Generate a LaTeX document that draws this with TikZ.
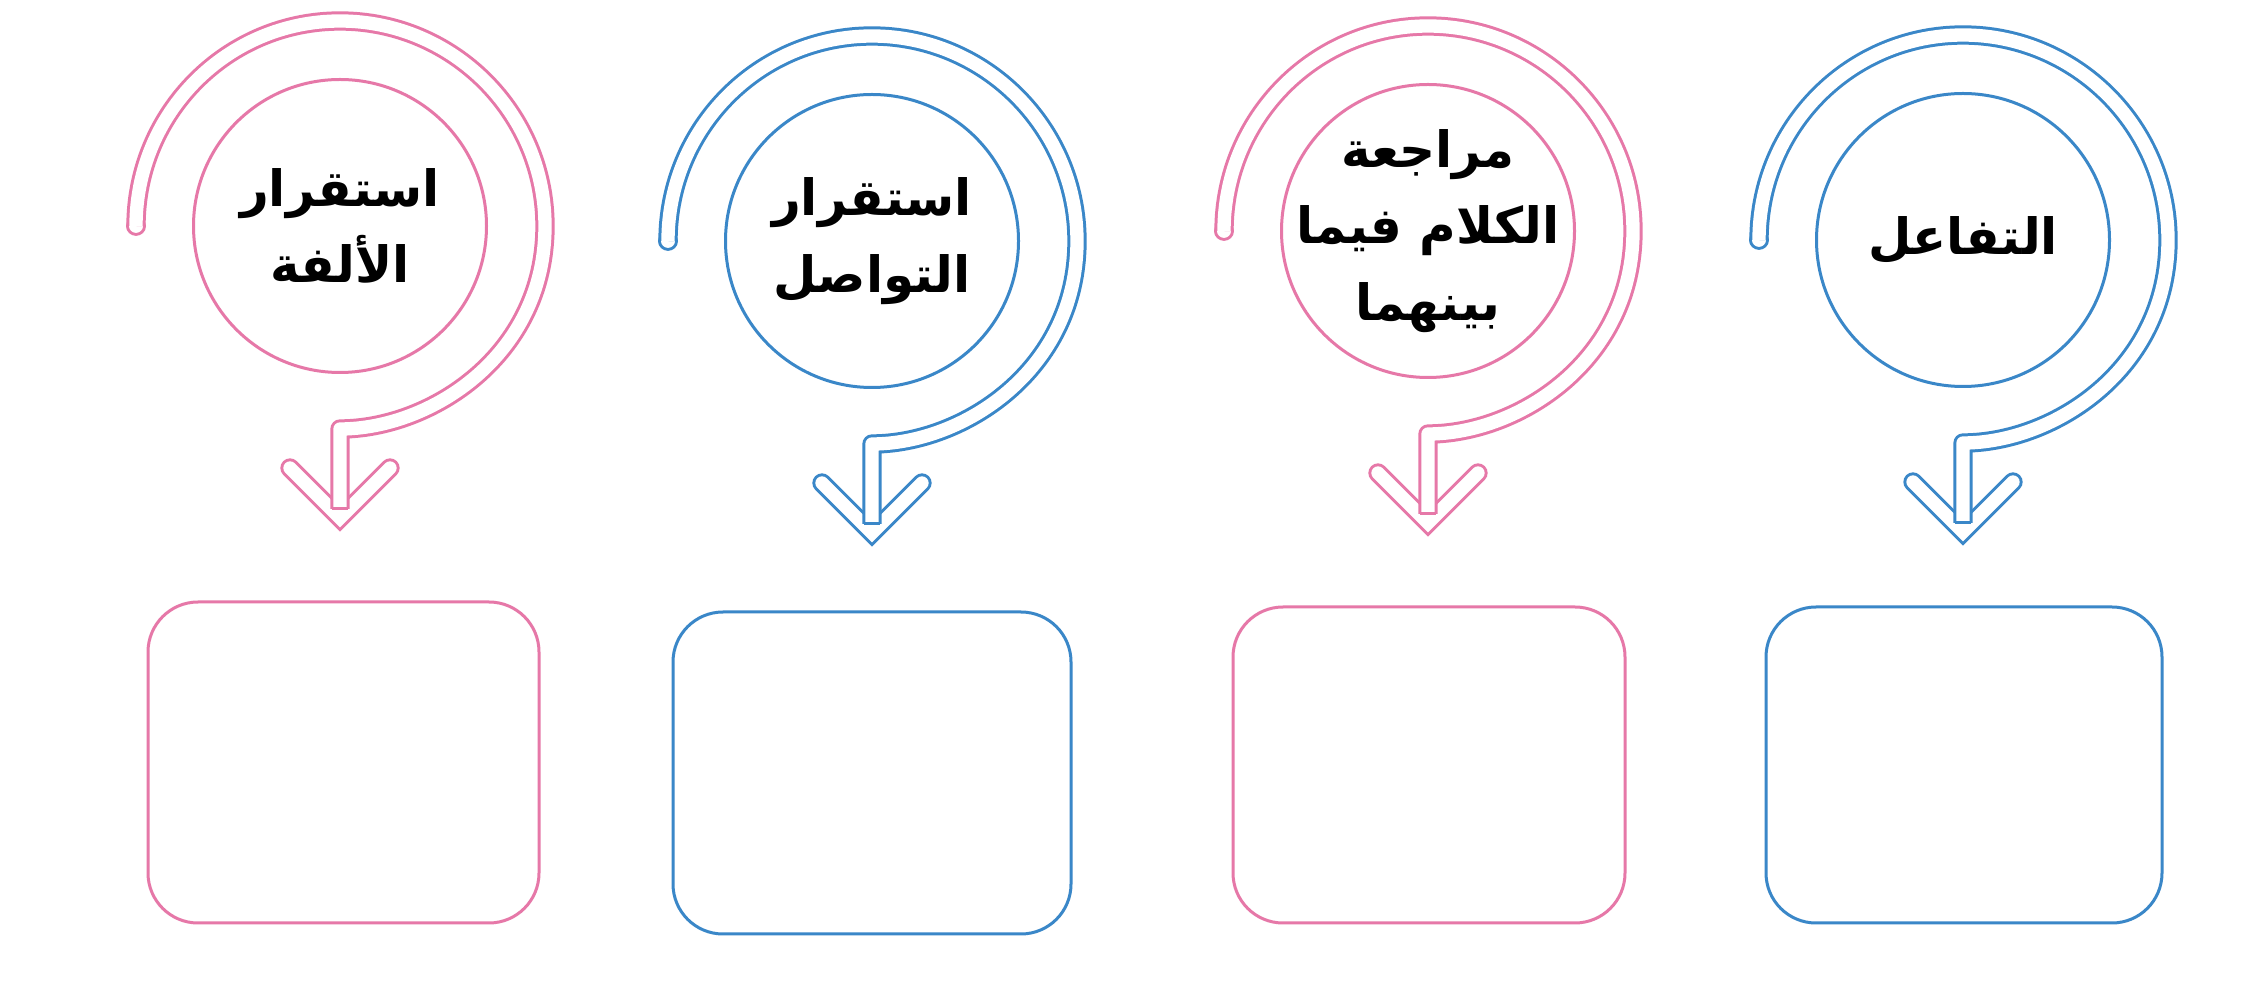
\documentclass[tikz,border=0pt]{standalone}
\usepackage{fontspec}
\usetikzlibrary{shapes.geometric}
\newfontfamily\arabicfont[Script=Arabic]{DejaVu Sans}
\TeXXeTstate=1
\definecolor{pinkc}{RGB}{230,120,168}
\definecolor{bluec}{RGB}{58,135,200}
\tikzset{
  ring/.style={draw=#1, circle, line width=0.9pt, minimum size=87.9pt, inner sep=0pt},
  card/.style={draw=#1, rounded corners=15pt, line width=0.9pt, inner sep=0pt},
  lbl/.style={font=\arabicfont\bfseries\fontsize{15}{23}\selectfont, align=center, text=black, inner sep=0pt},
  band/.style={draw=#1, double=white, double distance=4pt, line width=0.9pt, line cap=round, line join=round},
  pics/spiralarrow/.style={code={
    % round start cap
    \draw[band=#1] (-204,0) -- (-204,0.2);
    % chevron head
    \draw[band=#1, line join=miter] (-50,242) -- (0,292) -- (50,242);
    % spiral body
    \draw[band=#1, line cap=butt] (-204,0) .. controls (-204,-113) and (-113,-205) .. (0,-205)
       .. controls (113,-205) and (205,-113) .. (205,0)
       .. controls (205,130) and (90,203) .. (0,203) -- (0,283);
    \draw[draw=#1, line width=0.9pt] (-8.2,283) -- (8.2,283);
  }}
}
\begin{document}
\begin{tikzpicture}[x=0.3pt, y=-0.3pt]
\fill[white] (0,0) rectangle (2255,999);
\useasboundingbox (0,0) rectangle (2255,999);

% circles
\node[ring=pinkc] (c1) at (340,226) {};
\node[ring=bluec] (c2) at (872,241) {};
\node[ring=pinkc] (c3) at (1428,231) {};
\node[ring=bluec] (c4) at (1963,240) {};

% spiral arrows
\pic at (c1.center) {spiralarrow=pinkc};
\pic at (c2.center) {spiralarrow=bluec};
\pic at (c3.center) {spiralarrow=pinkc};
\pic at (c4.center) {spiralarrow=bluec};

% labels
\node[lbl] (t1) at (c1.center) {\beginR استقرار\endR\\\beginR الألفة\endR};
\node[lbl] (t2) at (c2.center) {\beginR استقرار\endR\\\beginR التواصل\endR};
\node[lbl] (t3) at (c3.center) {\beginR مراجعة\endR\\\beginR الكلام فيما\endR\\\beginR بينهما\endR};
\node[lbl] (t4) at (c4.center) {\beginR التفاعل\endR};

% boxes
\node[card=pinkc, minimum width=117.3pt, minimum height=96.3pt] (b1) at (343.5,762.5) {};
\node[card=bluec, minimum width=119.4pt, minimum height=96.6pt] (b2) at (872,773) {};
\node[card=pinkc, minimum width=117.6pt, minimum height=94.8pt] (b3) at (1429,765) {};
\node[card=bluec, minimum width=118.8pt, minimum height=94.8pt] (b4) at (1964,765) {};
\end{tikzpicture}
\end{document}
